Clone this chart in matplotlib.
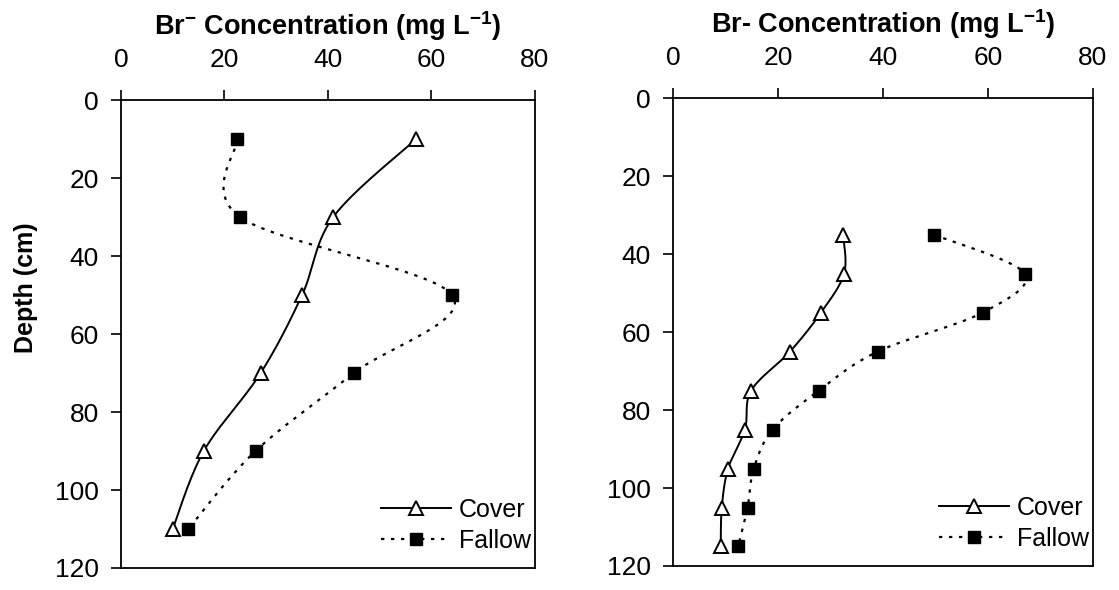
# Br- concentration profiles, cover vs fallow
import numpy as np
import matplotlib
matplotlib.use('Agg')
from matplotlib import pyplot as plt

plt.rcParams['font.family'] = ['Liberation Sans', 'DejaVu Sans']
plt.rcParams['mathtext.fontset'] = 'custom'
plt.rcParams['mathtext.rm'] = 'Liberation Sans'
plt.rcParams['mathtext.bf'] = 'Liberation Sans:bold'

# left panel
depth_left = [10, 30, 50, 70, 90, 110]
cover_left = [57, 41, 35, 27, 16, 10]
fallow_left = [22.5, 23, 64, 45, 26, 13]

# right panel
depth_right = [35, 45, 55, 65, 75, 85, 95, 105, 115]
cover_right = [32.4, 32.6, 28.2, 22.3, 14.9, 13.7, 10.5, 9.3, 9.1]
fallow_right = [49.7, 67, 59, 39, 27.8, 19, 15.4, 14.2, 12.4]

x_ticks = [0, 20, 40, 60, 80]
y_ticks = [0, 20, 40, 60, 80, 100, 120]


def smooth(x, y, n=30):
    # catmull-rom curve through the points (like Excel's smoothed line)
    p = np.column_stack([x, y]).astype(float)
    p = np.vstack([p[0], p, p[-1]])
    out = []
    t = np.linspace(0, 1, n)[:, None]
    for i in range(1, len(p) - 2):
        p0, p1, p2, p3 = p[i - 1], p[i], p[i + 1], p[i + 2]
        m1 = (p2 - p0) / 2
        m2 = (p3 - p1) / 2
        h00 = 2 * t**3 - 3 * t**2 + 1
        h10 = t**3 - 2 * t**2 + t
        h01 = -2 * t**3 + 3 * t**2
        h11 = t**3 - t**2
        out.append(h00 * p1 + h10 * m1 + h01 * p2 + h11 * m2)
    c = np.vstack(out)
    return c[:, 0], c[:, 1]


def draw(ax, depth, cover, fallow, title):
    cx, cy = smooth(cover, depth)
    fx, fy = smooth(fallow, depth)
    ax.plot(cx, cy, color='black', lw=1.4)
    ax.plot(fx, fy, color='black', lw=1.6, linestyle=(0, (1.5, 3)))
    ax.plot(cover, depth, linestyle='none', marker='^', ms=10,
            mfc='white', mec='black', mew=1.4)
    ax.plot(fallow, depth, linestyle='none', marker='s', ms=8,
            mfc='black', mec='black')
    # legend proxies
    ax.plot([], [], color='black', lw=1.4, marker='^', ms=10,
            mfc='white', mec='black', mew=1.4, label='Cover')
    ax.plot([], [], color='black', lw=1.6, linestyle=(0, (1.5, 3)),
            marker='s', ms=8, mfc='black', mec='black', label='Fallow')
    ax.set_xlim(0, 80)
    ax.set_ylim(120, 0)
    ax.set_xticks(x_ticks)
    ax.set_yticks(y_ticks)
    ax.xaxis.tick_top()
    ax.tick_params(axis='both', direction='out', length=7, width=1.2,
                   labelsize=19, pad=9)
    ax.tick_params(axis='x', pad=13)
    for s in ax.spines.values():
        s.set_linewidth(1.3)
    ax.set_title(title, fontsize=19.5, fontweight='bold', y=1.122)
    ax.legend(loc='lower right', frameon=False, fontsize=18,
              handlelength=2.8, handletextpad=0.3, labelspacing=0.3,
              borderaxespad=0.1, bbox_to_anchor=(1.02, 0.005))


fig = plt.figure(figsize=(11.19, 5.9), dpi=100)
ax1 = fig.add_axes([0.1081, 0.0373, 0.370, 0.793])
ax2 = fig.add_axes([0.6014, 0.0407, 0.3753, 0.793])

draw(ax1, depth_left, cover_left, fallow_left,
     r'Br$^{\mathbf{-}}$ Concentration (mg L$^{\mathbf{-1}}$)')
draw(ax2, depth_right, cover_right, fallow_right,
     r'Br- Concentration (mg L$^{\mathbf{-1}}$)')

ax1.set_ylabel('Depth (cm)', fontsize=18, fontweight='bold')
ax1.yaxis.set_label_coords(-0.20, 0.60)

fig.savefig('out.png', dpi=100)
